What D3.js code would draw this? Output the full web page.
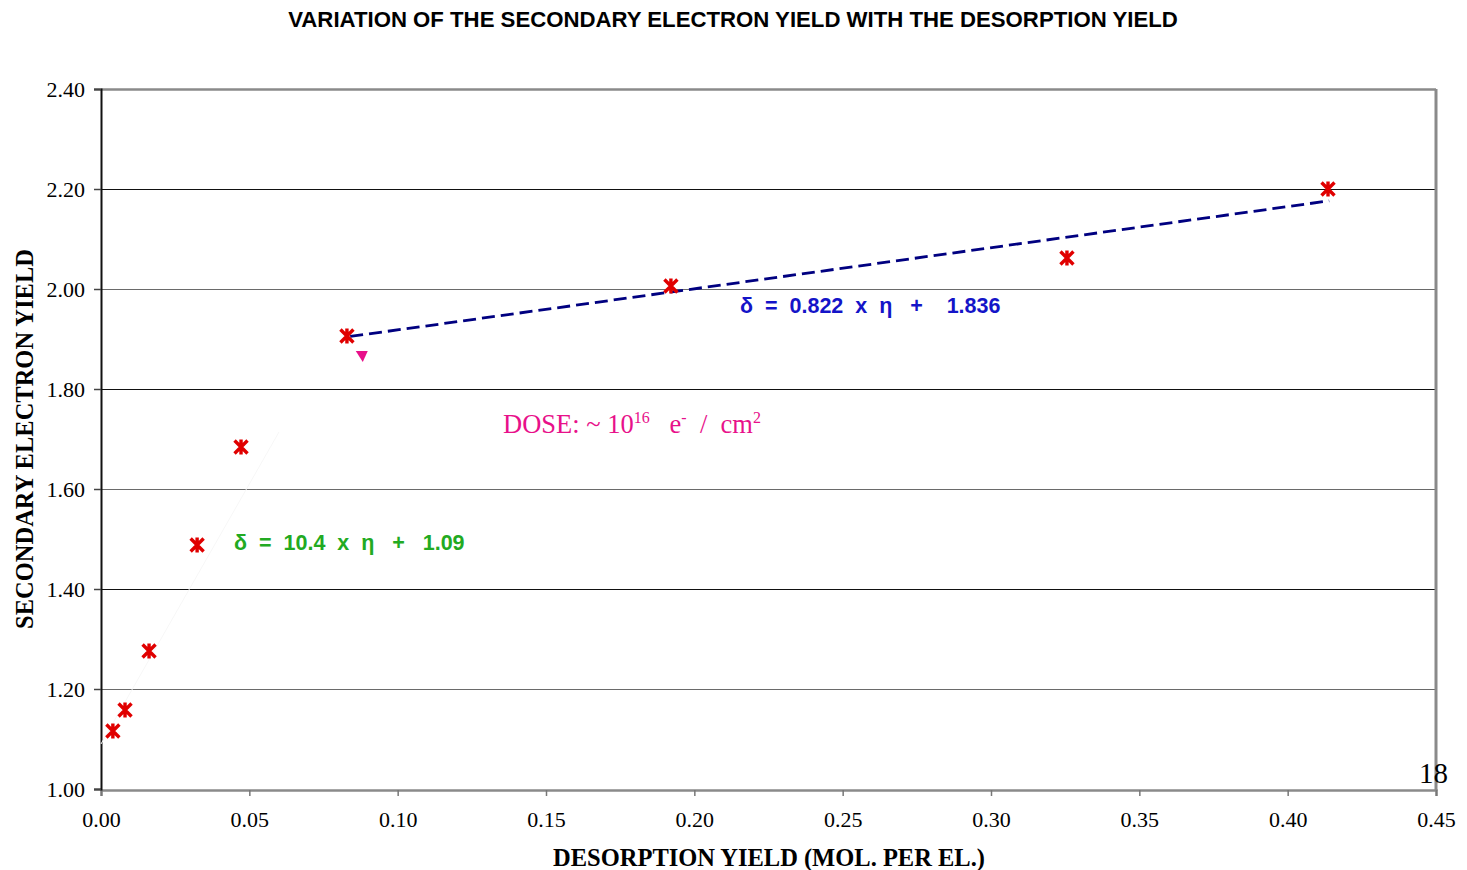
<!DOCTYPE html>
<html>
<head>
<meta charset="utf-8">
<script src="https://cdn.jsdelivr.net/npm/d3@7"></script>
<style>
  body { margin: 0; background: #fff; }
  svg { display: block; }
</style>
</head>
<body>
<svg id="chart" width="1467" height="870"></svg>
<script>
// Measured desorption yield (molecules per electron) and secondary electron yield
const desorptionYield = [0.0040, 0.0081, 0.0162, 0.0324, 0.0472, 0.0829, 0.1921, 0.3256, 0.4136];
const electronYield   = [1.116, 1.158, 1.276, 1.488, 1.684, 1.906, 2.006, 2.062, 2.200];

// Linear fits: delta = slope * eta + intercept
const highFit = { slope: 0.822, intercept: 1.836, from: 0.084, to: 0.414 };
const lowFit  = { slope: 10.4,  intercept: 1.09,  from: 0.0,   to: 0.06 };

const xTicks = [0, 0.05, 0.10, 0.15, 0.20, 0.25, 0.30, 0.35, 0.40, 0.45];
const yTicks = [1.0, 1.2, 1.4, 1.6, 1.8, 2.0, 2.2, 2.4];

const svg = d3.select("#chart");
const plotLeft = 101, plotRight = 1436, plotTop = 89, plotBottom = 789;

const x = d3.scaleLinear().domain([0, 0.45]).range([plotLeft, plotRight]);
const y = d3.scaleLinear().domain([1.0, 2.4]).range([plotBottom, plotTop]);

// Title
svg.append("text")
  .attr("x", 733).attr("y", 27)
  .attr("text-anchor", "middle")
  .attr("font-family", "Liberation Sans, Arial, sans-serif")
  .attr("font-weight", "bold")
  .attr("font-size", 22.2)
  .text("VARIATION OF THE SECONDARY ELECTRON YIELD WITH THE DESORPTION YIELD");

// Horizontal gridlines
svg.append("g").selectAll("line")
  .data(yTicks.filter(v => v > 1.0 && v < 2.4))
  .join("line")
  .attr("x1", plotLeft).attr("x2", plotRight)
  .attr("y1", d => Math.round(y(d)) + 0.5).attr("y2", d => Math.round(y(d)) + 0.5)
  .attr("stroke", (d, i) => i % 2 === 0 ? "#6a6a6a" : "#111")
  .attr("stroke-width", 1.2);

// Plot frame (top / right in gray)
svg.append("line").attr("x1", plotLeft).attr("x2", plotRight).attr("y1", plotTop + 0.5).attr("y2", plotTop + 0.5)
  .attr("stroke", "#8a8a8a").attr("stroke-width", 2.5);
svg.append("line").attr("x1", plotRight).attr("x2", plotRight).attr("y1", plotTop).attr("y2", plotBottom + 2)
  .attr("stroke", "#8a8a8a").attr("stroke-width", 3);

// Axes
const fmt = d3.format(".2f");
const xAxis = d3.axisBottom(x).tickValues(xTicks).tickFormat(fmt).tickSize(6).tickPadding(15);
const yAxis = d3.axisLeft(y).tickValues(yTicks).tickFormat(fmt).tickSize(7).tickPadding(9);

const gx = svg.append("g").attr("transform", `translate(0,${plotBottom + 1})`).call(xAxis);
gx.select(".domain").attr("stroke", "#8a8a8a").attr("stroke-width", 2.5);
gx.selectAll(".tick line").attr("stroke", "#777").attr("stroke-width", 1.5);
gx.selectAll(".tick text")
  .attr("font-family", "Liberation Serif, Times New Roman, serif")
  .attr("font-size", 22).attr("fill", "#000");

const gy = svg.append("g").attr("transform", `translate(${plotLeft},0)`).call(yAxis);
gy.select(".domain").attr("stroke", "#111").attr("stroke-width", 2);
gy.selectAll(".tick line").attr("stroke", "#444").attr("stroke-width", 1.5);
gy.selectAll(".tick text")
  .attr("font-family", "Liberation Serif, Times New Roman, serif")
  .attr("font-size", 22).attr("fill", "#000");

// Axis titles
svg.append("text")
  .attr("x", 769).attr("y", 866)
  .attr("text-anchor", "middle")
  .attr("font-family", "Liberation Serif, Times New Roman, serif")
  .attr("font-weight", "bold").attr("font-size", 24.5)
  .text("DESORPTION YIELD (MOL. PER EL.)");

svg.append("text")
  .attr("transform", "translate(33,439) rotate(-90)")
  .attr("text-anchor", "middle")
  .attr("font-family", "Liberation Serif, Times New Roman, serif")
  .attr("font-weight", "bold").attr("font-size", 24.5)
  .text("SECONDARY ELECTRON YIELD");

// Faint fit through the low-dose points
svg.append("line")
  .attr("x1", x(lowFit.from)).attr("y1", y(lowFit.slope * lowFit.from + lowFit.intercept))
  .attr("x2", x(lowFit.to)).attr("y2", y(lowFit.slope * lowFit.to + lowFit.intercept))
  .attr("stroke", "#f7f7f7").attr("stroke-width", 1);

// Dashed fit through the high-dose points
svg.append("line")
  .attr("x1", x(highFit.from)).attr("y1", y(highFit.slope * highFit.from + highFit.intercept))
  .attr("x2", x(highFit.to)).attr("y2", y(highFit.slope * highFit.to + highFit.intercept))
  .attr("stroke", "#000080").attr("stroke-width", 2.8)
  .attr("stroke-dasharray", "13,6");

// Data markers: red star-cross
const pts = desorptionYield.map((d, i) => [d, electronYield[i]]);
const s = 6.5;
svg.append("g").selectAll("path")
  .data(pts)
  .join("path")
  .attr("transform", d => `translate(${x(d[0])},${y(d[1])})`)
  .attr("d", `M${-s},${-s}L${s},${s}M${s},${-s}L${-s},${s}M0,${-s - 1}L0,${s + 1}`)
  .attr("stroke", "#e00000").attr("stroke-width", 3.4).attr("fill", "none");

// Pink pointer below the 0.083 point
svg.append("path")
  .attr("transform", `translate(${x(0.0879)},${y(1.866)})`)
  .attr("d", "M-6,-5L6,-5L1,6Z")
  .attr("fill", "#e8108a");

// Fit equations
svg.append("text")
  .attr("x", 740).attr("y", 313)
  .attr("font-family", "Liberation Sans, Arial, sans-serif")
  .attr("font-weight", "bold").attr("font-size", 21.5)
  .attr("fill", "#1414c8")
  .attr("xml:space", "preserve")
  .text("δ  =  0.822  x  η   +    1.836");

svg.append("text")
  .attr("x", 234).attr("y", 550)
  .attr("font-family", "Liberation Sans, Arial, sans-serif")
  .attr("font-weight", "bold").attr("font-size", 21.5)
  .attr("fill", "#22aa22")
  .attr("xml:space", "preserve")
  .text("δ  =  10.4  x  η   +   1.09");

// Dose annotation
const dose = svg.append("text")
  .attr("x", 503).attr("y", 433)
  .attr("font-family", "Liberation Serif, Times New Roman, serif")
  .attr("font-size", 26.5)
  .attr("fill", "#e8108a")
  .attr("xml:space", "preserve");
dose.append("tspan").text("DOSE: ~ 10");
dose.append("tspan").attr("dy", -10).attr("font-size", 16).text("16");
dose.append("tspan").attr("dy", 10).text("   e");
dose.append("tspan").attr("dy", -10).attr("font-size", 16).text("-");
dose.append("tspan").attr("dy", 10).text("  /  cm");
dose.append("tspan").attr("dy", -10).attr("font-size", 16).text("2");

// Slide number
svg.append("text")
  .attr("x", 1419).attr("y", 783)
  .attr("font-family", "Liberation Serif, Times New Roman, serif")
  .attr("font-size", 29).attr("fill", "#000")
  .text("18");
</script>
</body>
</html>
